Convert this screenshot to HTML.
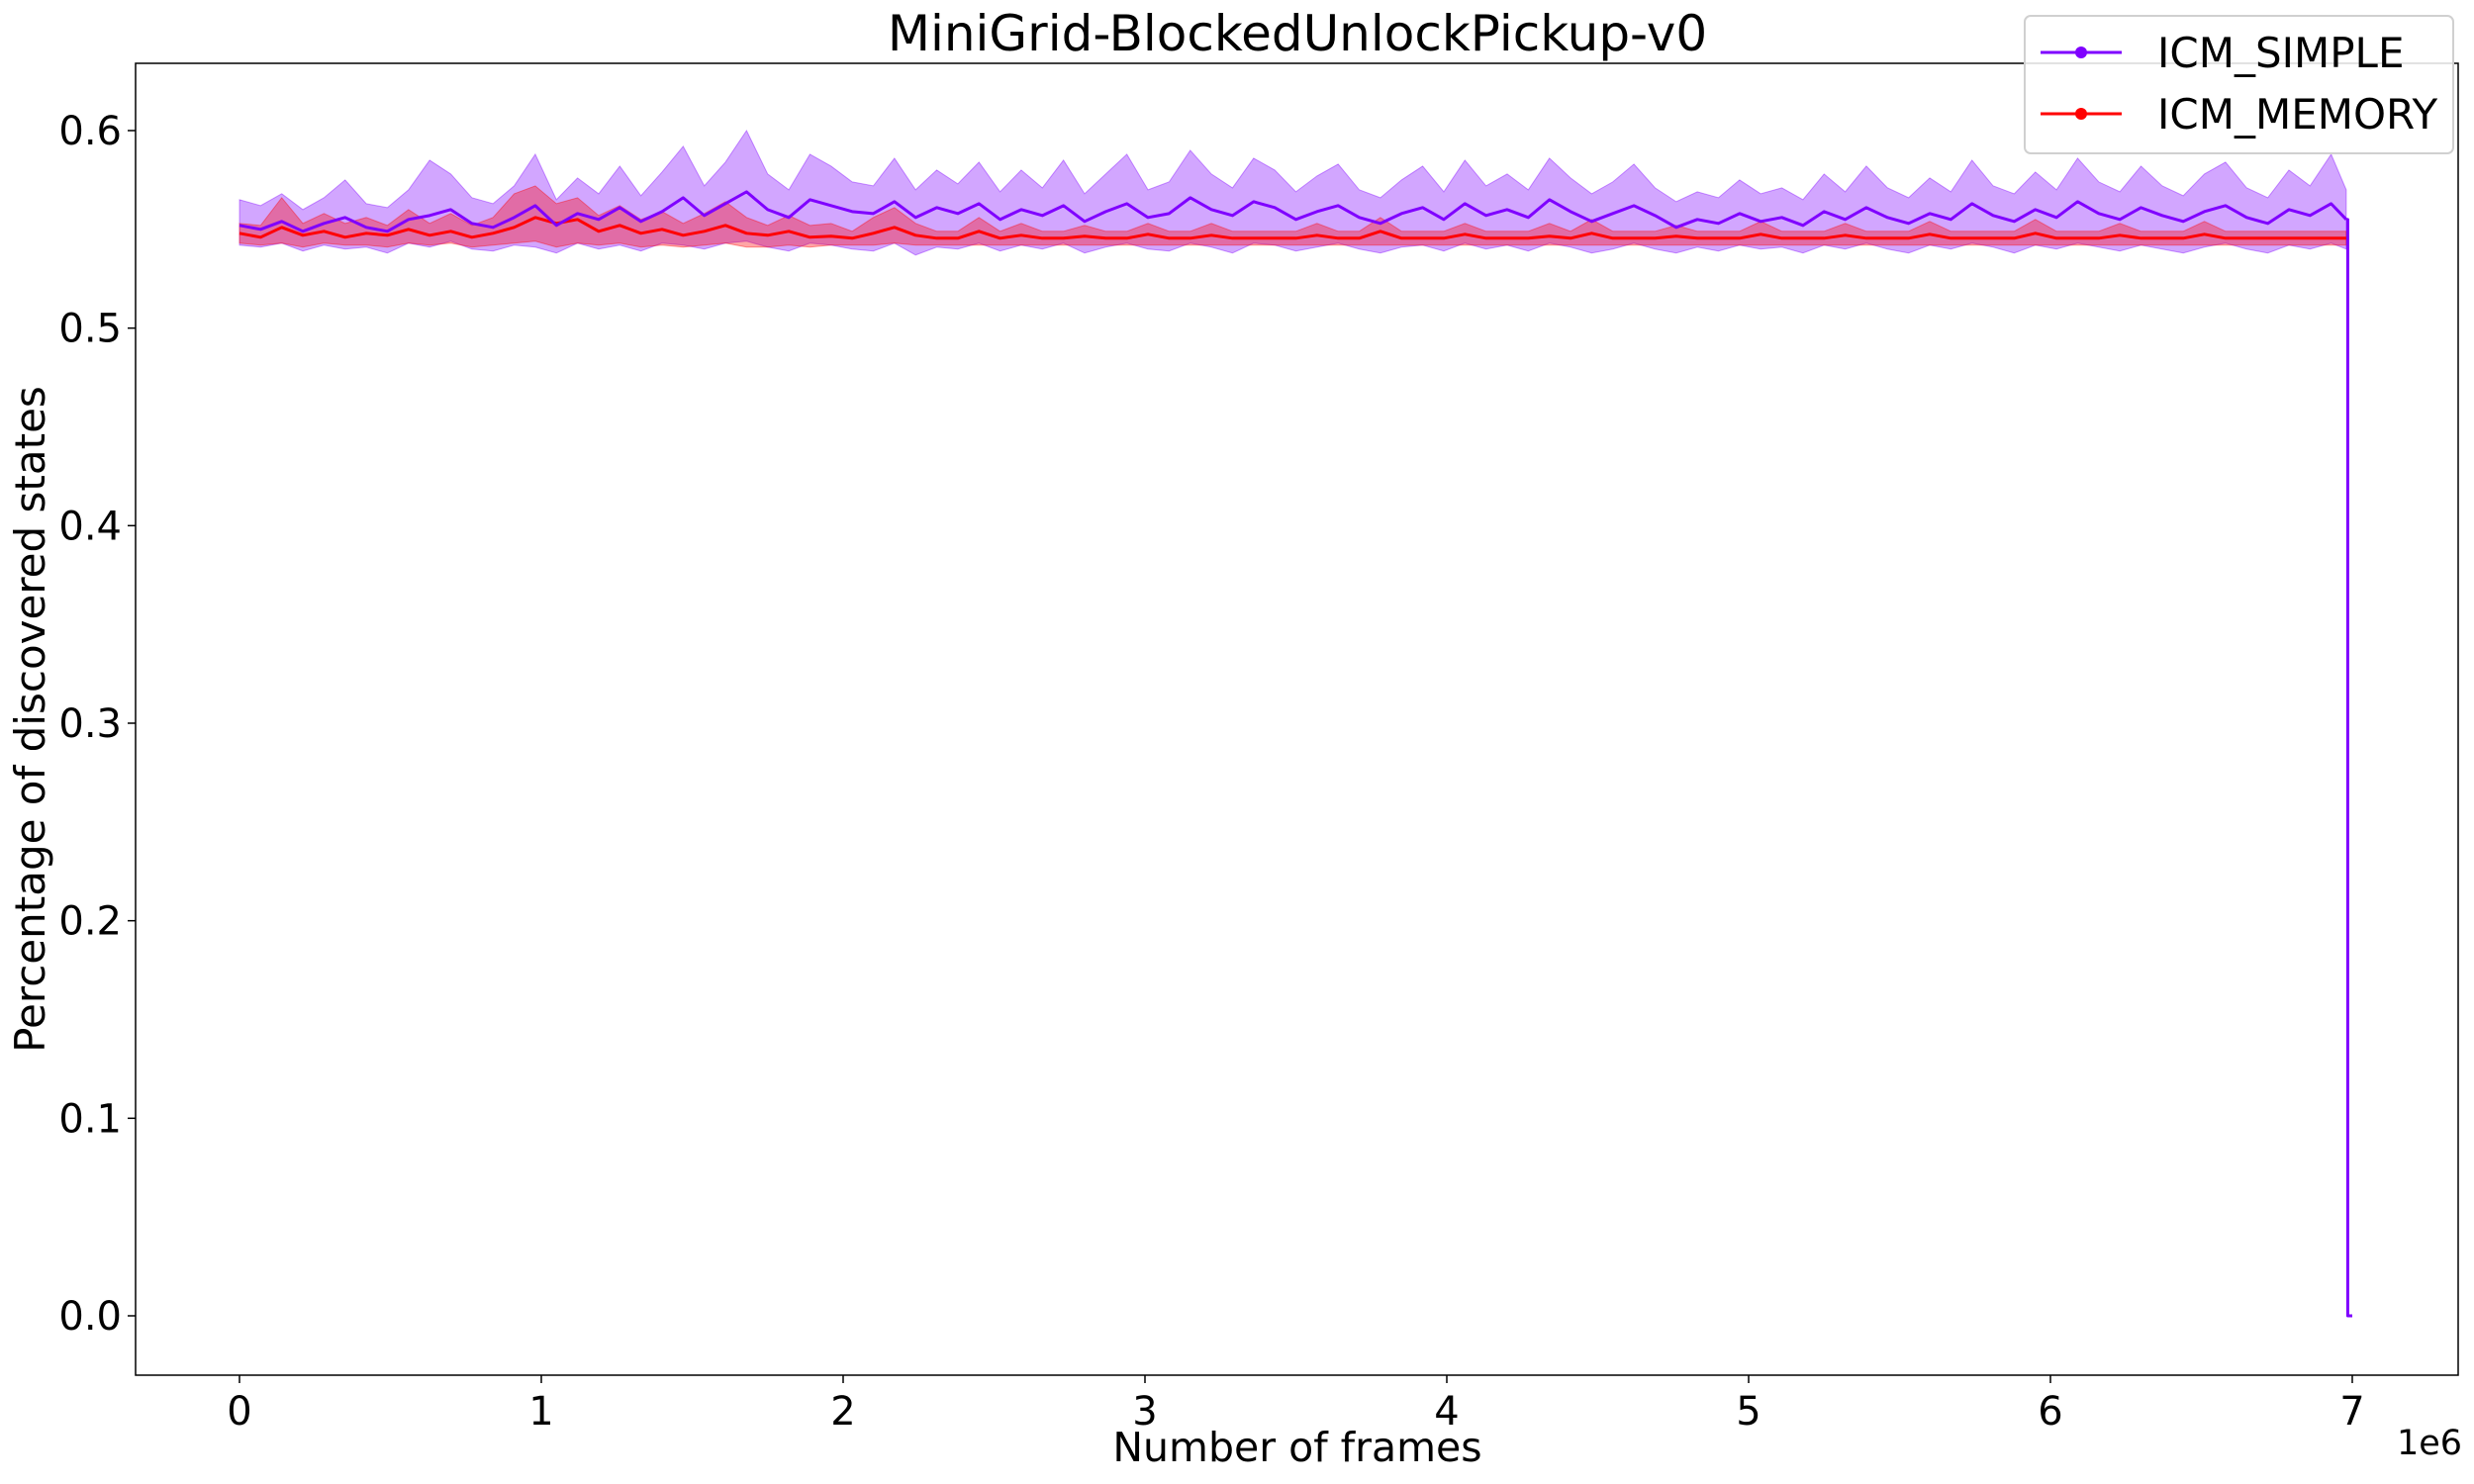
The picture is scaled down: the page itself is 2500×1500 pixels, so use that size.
<!DOCTYPE html>
<html><head><meta charset="utf-8"><style>
body{margin:0;background:#fff}
svg{display:block;font-family:"DejaVu Sans","Liberation Sans",sans-serif}
</style></head><body>
<svg id="chart" width="2500" height="1500" viewBox="0 0 2500 1500" xmlns="http://www.w3.org/2000/svg">
<rect x="0" y="0" width="2500" height="1500" fill="#fff"/>
<g id="plot"></g>
<g id="axes"></g>
<text x="1311" y="51" font-size="50" text-anchor="middle">MiniGrid-BlockedUnlockPickup-v0</text>
<text x="1311" y="1477" font-size="41" text-anchor="middle">Number of frames</text>
<text transform="translate(45,727) rotate(-90)" font-size="42" text-anchor="middle">Percentage of discovered states</text>
<text x="2455" y="1470" font-size="35" text-anchor="middle">1e6</text>
<g>
<rect x="2046" y="16" width="433" height="139" rx="6" fill="#fff" fill-opacity="0.85" stroke="#d0d0d0" stroke-width="2"/>
<line x1="2062" y1="53" x2="2144" y2="53" stroke="#7f00ff" stroke-width="3"/>
<circle cx="2103" cy="53" r="6" fill="#7f00ff"/>
<text x="2180" y="68" font-size="42">ICM_SIMPLE</text>
<line x1="2062" y1="115" x2="2144" y2="115" stroke="#ff0000" stroke-width="3"/>
<circle cx="2103" cy="115" r="6" fill="#ff0000"/>
<text x="2180" y="130" font-size="42">ICM_MEMORY</text>
</g>
</svg>
<script>
const xTicks=[0,1,2,3,4,5,6,7];
const xTickLabels=["0","1","2","3","4","5","6","7"];
const yTicks=[0,0.1,0.2,0.3,0.4,0.5,0.6];
const yTickLabels=["0.0","0.1","0.2","0.3","0.4","0.5","0.6"];
const frames=[0,0.07,0.14,0.21,0.28,0.35,0.42,0.49,0.56,0.63,0.70,0.77,0.84,0.91,0.98,1.05,1.12,1.19,1.26,1.33,1.40,1.47,1.54,1.61,1.68,1.75,1.82,1.89,1.96,2.03,2.10,2.17,2.24,2.31,2.38,2.45,2.52,2.59,2.66,2.73,2.80,2.87,2.94,3.01,3.08,3.15,3.22,3.29,3.36,3.43,3.50,3.57,3.64,3.71,3.78,3.85,3.92,3.99,4.06,4.13,4.20,4.27,4.34,4.41,4.48,4.55,4.62,4.69,4.76,4.83,4.90,4.97,5.04,5.11,5.18,5.25,5.32,5.39,5.46,5.53,5.60,5.67,5.74,5.81,5.88,5.95,6.02,6.09,6.16,6.23,6.30,6.37,6.44,6.51,6.58,6.65,6.72,6.79,6.86,6.93,6.98];
const simpleMean=[0.552,0.550,0.554,0.549,0.553,0.556,0.551,0.549,0.555,0.557,0.560,0.553,0.551,0.556,0.562,0.552,0.558,0.555,0.561,0.554,0.559,0.566,0.557,0.563,0.569,0.560,0.556,0.565,0.562,0.559,0.558,0.564,0.556,0.561,0.558,0.563,0.555,0.560,0.557,0.562,0.554,0.559,0.563,0.556,0.558,0.566,0.560,0.557,0.564,0.561,0.555,0.559,0.562,0.556,0.553,0.558,0.561,0.555,0.563,0.557,0.560,0.556,0.565,0.559,0.554,0.558,0.562,0.557,0.551,0.555,0.553,0.558,0.554,0.556,0.552,0.559,0.555,0.561,0.556,0.553,0.558,0.555,0.563,0.557,0.554,0.560,0.556,0.564,0.558,0.555,0.561,0.557,0.554,0.559,0.562,0.556,0.553,0.560,0.557,0.563,0.555];
const simpleUpper=[0.565,0.562,0.568,0.560,0.566,0.575,0.563,0.561,0.570,0.585,0.578,0.566,0.563,0.572,0.588,0.565,0.576,0.568,0.582,0.567,0.579,0.592,0.572,0.584,0.600,0.578,0.570,0.588,0.582,0.574,0.572,0.586,0.570,0.580,0.573,0.584,0.569,0.580,0.571,0.585,0.568,0.578,0.588,0.570,0.574,0.590,0.578,0.571,0.586,0.580,0.569,0.577,0.583,0.570,0.566,0.575,0.582,0.569,0.585,0.572,0.578,0.570,0.586,0.576,0.568,0.574,0.583,0.571,0.564,0.569,0.566,0.575,0.568,0.571,0.565,0.578,0.569,0.582,0.571,0.566,0.576,0.569,0.585,0.572,0.568,0.579,0.570,0.586,0.574,0.569,0.582,0.572,0.567,0.578,0.584,0.571,0.566,0.580,0.572,0.588,0.570];
const simpleLower=[0.542,0.541,0.543,0.539,0.542,0.540,0.541,0.538,0.543,0.541,0.544,0.540,0.539,0.542,0.541,0.538,0.543,0.540,0.542,0.539,0.543,0.542,0.540,0.543,0.544,0.541,0.539,0.543,0.542,0.540,0.539,0.543,0.537,0.541,0.540,0.543,0.539,0.542,0.540,0.543,0.538,0.541,0.543,0.540,0.539,0.543,0.541,0.538,0.543,0.542,0.539,0.541,0.543,0.540,0.538,0.541,0.542,0.539,0.543,0.540,0.542,0.539,0.543,0.541,0.538,0.540,0.543,0.540,0.538,0.541,0.539,0.542,0.540,0.541,0.538,0.542,0.540,0.543,0.540,0.538,0.542,0.540,0.543,0.541,0.538,0.542,0.540,0.543,0.541,0.539,0.542,0.540,0.538,0.541,0.543,0.540,0.538,0.542,0.540,0.543,0.540];
const memoryMean=[0.548,0.546,0.551,0.547,0.549,0.546,0.548,0.547,0.550,0.547,0.549,0.546,0.548,0.551,0.556,0.553,0.555,0.549,0.552,0.548,0.550,0.547,0.549,0.552,0.548,0.547,0.549,0.546,0.5465,0.5455,0.548,0.551,0.547,0.5455,0.5455,0.549,0.5455,0.547,0.5455,0.5455,0.5465,0.5455,0.5455,0.5475,0.5455,0.5455,0.547,0.5455,0.5455,0.5455,0.5455,0.547,0.5455,0.5455,0.549,0.5455,0.5455,0.5455,0.5475,0.5455,0.5455,0.5455,0.5465,0.5455,0.548,0.5455,0.5455,0.5455,0.5465,0.5455,0.5455,0.5455,0.5475,0.5455,0.5455,0.5455,0.547,0.5455,0.5455,0.5455,0.5475,0.5455,0.5455,0.5455,0.5455,0.548,0.5455,0.5455,0.5455,0.547,0.5455,0.5455,0.5455,0.5475,0.5455,0.5455,0.5455,0.5455,0.5455,0.5455,0.5455];
const memoryUpper=[0.553,0.552,0.566,0.553,0.558,0.553,0.556,0.552,0.560,0.553,0.558,0.552,0.556,0.568,0.572,0.563,0.566,0.557,0.562,0.555,0.559,0.553,0.558,0.564,0.556,0.552,0.557,0.552,0.553,0.549,0.556,0.561,0.553,0.549,0.549,0.556,0.549,0.553,0.549,0.549,0.552,0.549,0.549,0.553,0.549,0.549,0.553,0.549,0.549,0.549,0.549,0.553,0.549,0.549,0.556,0.549,0.549,0.549,0.553,0.549,0.549,0.549,0.553,0.549,0.555,0.549,0.549,0.549,0.552,0.549,0.549,0.549,0.554,0.549,0.549,0.549,0.553,0.549,0.549,0.549,0.554,0.549,0.549,0.549,0.549,0.555,0.549,0.549,0.549,0.553,0.549,0.549,0.549,0.554,0.549,0.549,0.549,0.549,0.549,0.549,0.549];
const memoryLower=[0.543,0.542,0.543,0.541,0.543,0.542,0.542,0.541,0.543,0.542,0.543,0.541,0.542,0.543,0.544,0.541,0.543,0.542,0.543,0.541,0.542,0.541,0.542,0.543,0.541,0.541,0.542,0.541,0.542,0.542,0.542,0.543,0.542,0.542,0.542,0.542,0.542,0.542,0.542,0.542,0.542,0.542,0.542,0.542,0.542,0.542,0.542,0.542,0.542,0.542,0.542,0.542,0.542,0.542,0.542,0.542,0.542,0.542,0.542,0.542,0.542,0.542,0.542,0.542,0.542,0.542,0.542,0.542,0.542,0.542,0.542,0.542,0.542,0.542,0.542,0.542,0.542,0.542,0.542,0.542,0.542,0.542,0.542,0.542,0.542,0.542,0.542,0.542,0.542,0.542,0.542,0.542,0.542,0.542,0.542,0.542,0.542,0.542,0.542,0.542,0.542];
const tailFrames=[6.98,6.985,6.985,7.0];
const tailValues=[0.555,0.555,0.0,0.0];

const NS="http://www.w3.org/2000/svg";
const L=137,R=2484,T=64,B=1390;
function xs(v){return 242+v*305;}
function ys(v){return 1330-v*1996.7;}
function mk(tag,attrs,parent){const e=document.createElementNS(NS,tag);for(const k in attrs)e.setAttribute(k,attrs[k]);parent.appendChild(e);return e;}
const plot=document.getElementById('plot');
const axes=document.getElementById('axes');
function band(up,lo,color,name){
  let d='M'+frames.map((f,i)=>xs(f)+','+ys(up[i])).join('L');
  for(let i=frames.length-1;i>=0;i--)d+='L'+xs(frames[i])+','+ys(lo[i]);
  const p=mk('path',{d:d+'Z',fill:color,'fill-opacity':0.35,stroke:color,'stroke-opacity':0.4,'stroke-width':1},plot);
  
  
}
function line(xa,va,color,name){
  const d='M'+xa.map((f,i)=>xs(f)+','+ys(va[i])).join('L');
  const p=mk('path',{d:d,fill:'none',stroke:color,'stroke-width':3,'stroke-linejoin':'round'},plot);
  
  
}
band(simpleUpper,simpleLower,'#7f00ff','icm-simple-band');
band(memoryUpper,memoryLower,'#ff0000','icm-memory-band');
line(frames,memoryMean,'#ff0000','icm-memory-line');
line(frames,simpleMean,'#7f00ff','icm-simple-line');
line(tailFrames,tailValues,'#7f00ff','icm-simple-tail');
const frame=mk('rect',{x:L,y:T,width:R-L,height:B-T,fill:'none',stroke:'#000','stroke-width':1.5},axes);


xTicks.forEach((v,i)=>{
  const x=xs(v);
  const t=mk('line',{x1:x,y1:B,x2:x,y2:B+8,stroke:'#000','stroke-width':1.5},axes);
  
  
  const lb=mk('text',{x:x,y:B+50,'font-size':40,'text-anchor':'middle'},axes);
  lb.textContent=xTickLabels[i];
  
  
});
yTicks.forEach((v,i)=>{
  const y=ys(v);
  const t=mk('line',{x1:L-8,y1:y,x2:L,y2:y,stroke:'#000','stroke-width':1.5},axes);
  
  
  const lb=mk('text',{x:L-14,y:y+14,'font-size':40,'text-anchor':'end'},axes);
  lb.textContent=yTickLabels[i];
  
  
});
</script>
</body></html>
